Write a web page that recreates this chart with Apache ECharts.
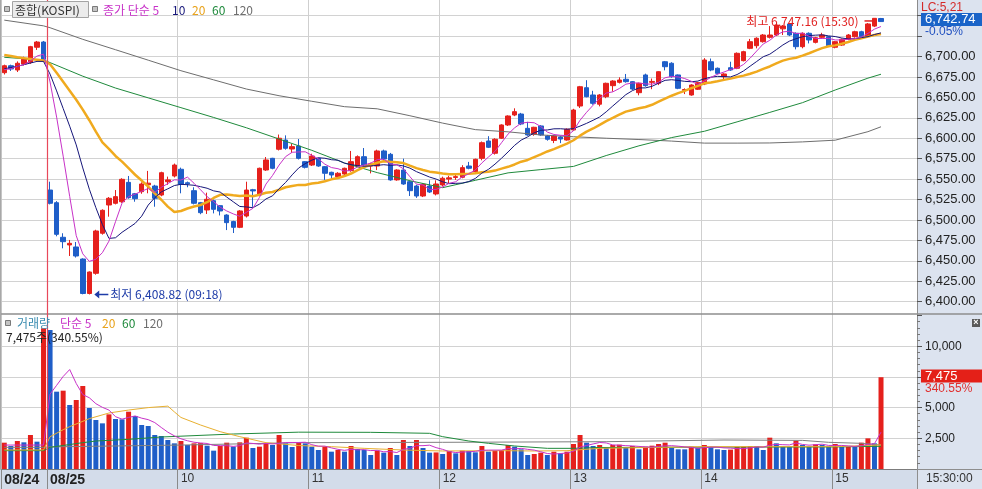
<!DOCTYPE html>
<html>
<head>
<meta charset="utf-8">
<title>종합(KOSPI) 3분</title>
<script src="https://cdn.jsdelivr.net/npm/echarts@6.0.0/dist/echarts.min.js"></script>
<style>
html, body { margin: 0; padding: 0; background: #fff; }
#main { width: 982px; height: 489px; }
</style>
</head>
<body>
<div id="main"></div>
<script>
// 08/24 last bars + 08/25 session, 3 minute candles
var day24Times = ['15:03', '15:06', '15:09', '15:12', '15:15', '15:18', '15:30'];

var openP = [6680.2, 6688.7, 6683.5, 6690.8, 6692.9, 6711.3, 6717.7,
  6536.6, 6521.1, 6478.8, 6469.4, 6466.9, 6452.2, 6410, 6434.7, 6483.7, 6518.3,
  6520.4, 6522.3, 6546, 6532, 6534.6, 6543, 6541.5, 6530.5, 6546.8, 6553.8,
  6562, 6545.5, 6535.8, 6521.1, 6512.2, 6523.6, 6517.5, 6506, 6498, 6491,
  6504.8, 6537, 6530.5, 6561.1, 6575.4, 6586.5, 6597.8, 6586.8, 6590.5, 6571.3,
  6567.2, 6575.4, 6565.2, 6558.3, 6552.9, 6556.2, 6560.3, 6566, 6577.4, 6566,
  6566, 6584.4, 6580.3, 6549, 6561.1, 6546.8, 6541.5, 6529.3, 6541.5, 6531.8,
  6542.8, 6550, 6552, 6552.2, 6566, 6559, 6575.4, 6596.6, 6581.6, 6600,
  6616.2, 6628.4, 6629.6, 6612.1, 6604.8, 6615, 6602.7, 6597.3, 6601.5, 6597.8,
  6610.1, 6639.4, 6661.8, 6652.9, 6641.6, 6650.8, 6664.3, 6668.4, 6672.1, 6669.2,
  6655.7, 6677.4, 6668.4, 6667.2, 6693.6, 6691.7, 6677.4, 6658.5, 6652.9, 6659.9,
  6666.4, 6693.6, 6685.6, 6675.3, 6686.3, 6685.6, 6694.9, 6710, 6713.2, 6718.1,
  6723.5, 6726.3, 6733.8, 6739.8, 6728.4, 6712, 6728.4, 6717.3, 6723.5, 6724.2,
  6711.3, 6714, 6721, 6724.2, 6730.3, 6725, 6737.2, 6746.5];

var closeP = [6688.7, 6684.7, 6691.7, 6696.6, 6712, 6717.7, 6696.6,
  6520.4, 6482.4, 6473.4, 6471.4, 6455.9, 6410, 6436.3, 6486.5, 6511.8, 6526.5,
  6528.5, 6549.7, 6527.2, 6526, 6544, 6545, 6526.5, 6557.8, 6549, 6567.2,
  6543.6, 6544.2, 6520.4, 6508.9, 6525.3, 6513, 6511, 6496.7, 6491, 6511,
  6536.6, 6535.5, 6563.2, 6573.4, 6563.2, 6600, 6587.7, 6589.7, 6575.4, 6564.4,
  6578.2, 6566, 6557.1, 6555, 6557.1, 6563.2, 6571.3, 6577.4, 6567.2, 6568.5,
  6584.4, 6574.6, 6549, 6561.1, 6544, 6535.8, 6529.3, 6543.6, 6534.2, 6544,
  6551, 6551.5, 6553, 6564, 6563.2, 6574.2, 6594.5, 6588.9, 6598.7, 6616.2,
  6627.2, 6632.5, 6617.4, 6604, 6613.4, 6604, 6598.7, 6602.7, 6599, 6611,
  6634.5, 6663, 6650.8, 6642.7, 6652.9, 6667.2, 6670, 6671.2, 6669.2, 6660.2,
  6667.2, 6664.3, 6669.5, 6681.4, 6687.5, 6675.3, 6661.1, 6659.6, 6665.1, 6668,
  6695.7, 6683.5, 6679.4, 6678.6, 6683.5, 6703.9, 6705.9, 6718.1, 6722.3, 6726.3,
  6726.3, 6738.5, 6737.2, 6726.3, 6712, 6728.4, 6720.2, 6723, 6726.3, 6713.2,
  6718.1, 6721, 6726.3, 6730.3, 6724.2, 6739.8, 6746.7, 6742.74];

var lowP = [6678, 6682.3, 6681, 6689, 6691, 6708, 6695,
  6519, 6480, 6465.3, 6455.9, 6454, 6409, 6408.82, 6433, 6482, 6504,
  6519, 6521, 6526, 6522.3, 6532, 6532.6, 6516.2, 6529, 6543, 6552,
  6532.6, 6540, 6519, 6507, 6507.3, 6508, 6505.5, 6487.6, 6484, 6490,
  6503, 6516, 6529, 6560, 6562, 6585, 6586, 6582, 6574, 6563,
  6566, 6565, 6549, 6549, 6552, 6555, 6559, 6565, 6566, 6557,
  6561, 6573, 6548, 6548, 6543, 6529.3, 6527, 6528, 6533, 6530,
  6541, 6545, 6549, 6551, 6562, 6558, 6573, 6588, 6580, 6599,
  6615, 6627, 6616, 6603, 6603, 6603, 6597, 6594, 6594, 6597,
  6609, 6637, 6650, 6641, 6639, 6649, 6657, 6667, 6668, 6659,
  6652.5, 6663, 6660, 6665, 6683, 6674, 6660, 6654, 6652, 6659,
  6665, 6682, 6678, 6670, 6682.5, 6684.5, 6694, 6709, 6710, 6717,
  6722, 6725, 6726.3, 6725, 6708.7, 6710, 6716, 6716, 6722.5, 6712,
  6710, 6713, 6720, 6723, 6723, 6724, 6736, 6742.5];

var highP = [6690, 6690, 6694, 6699.8, 6713, 6719, 6719,
  6546.8, 6523, 6483.7, 6475.5, 6473, 6453, 6437, 6488, 6513, 6528,
  6536.6, 6551, 6553.8, 6533, 6546, 6560, 6543, 6559, 6553, 6569,
  6564, 6547, 6540, 6522, 6533.4, 6525, 6518, 6507, 6499, 6512,
  6546.8, 6538, 6564, 6577, 6576, 6604.5, 6603.5, 6593, 6599, 6572,
  6581, 6576, 6566, 6559, 6558.5, 6564, 6584.4, 6579, 6588, 6570,
  6586, 6586, 6582, 6562, 6575, 6548, 6543, 6545, 6548.5, 6548.5,
  6553, 6554, 6556, 6567, 6571, 6575, 6596, 6602.5, 6600, 6617,
  6628, 6636.6, 6631, 6620, 6614, 6616, 6604, 6604, 6603, 6612,
  6636, 6664, 6671, 6658, 6654, 6668, 6671, 6674.5, 6678.6, 6670,
  6668, 6679, 6673, 6682, 6694.5, 6693, 6678, 6661, 6666, 6669,
  6698, 6697.5, 6686.5, 6679.5, 6693.6, 6705, 6707, 6721.5, 6723.5, 6727.5,
  6737.2, 6741, 6738.5, 6741, 6729.5, 6729.5, 6729.5, 6724, 6729, 6725,
  6719, 6722, 6727.5, 6731.5, 6731.5, 6741, 6746.9, 6747.16];

var volume = [2143, 1873, 2280, 2172, 2769, 2226, 11454,
  11319, 6297, 6378, 5212, 5619, 6759, 4967, 3990, 3718, 4451,
  4071, 4044, 4668, 4316, 3583, 3501, 2769, 2687, 2361, 2090,
  2280, 1954, 2090, 2110, 1900, 1493, 1873, 2145, 1818, 2172,
  2551, 1710, 1818, 2090, 1954, 2769, 2090, 1791, 2145, 2090,
  1818, 1547, 1818, 1411, 1547, 1411, 1873, 1629, 1547, 1140,
  1493, 1330, 1710, 1140, 2361, 1873, 2361, 1710, 1330, 1350,
  1221, 1466, 1276, 1493, 1466, 1357, 1873, 1411, 1493, 1547,
  1954, 1818, 1602, 1140, 1221, 1330, 1140, 1411, 1276, 1411,
  2036, 2769, 2145, 1873, 1954, 1791, 1954, 1980, 1710, 1873,
  1602, 1818, 1900, 2036, 2145, 1710, 1602, 1600, 1818, 1710,
  1954, 1764, 1602, 1547, 1580, 1791, 1820, 1873, 1860, 1547,
  2551, 2090, 1818, 1791, 2306, 1954, 1818, 2009, 1954, 1818,
  2036, 1818, 1830, 1791, 2145, 2496, 2090, 7475];

// price moving averages, one value per bar
var ma5 = [6684, 6685, 6688, 6690, 6694.7, 6700.5, 6702.9,
  6668.7, 6625.8, 6578.1, 6528.8, 6480.7, 6458.5, 6449.3, 6451.9, 6460, 6474.1,
  6497.9, 6520.6, 6528.7, 6531.6, 6535.1, 6538.4, 6533.7, 6539.9, 6544.5, 6549.1,
  6548.8, 6552.4, 6544.9, 6536.9, 6528.5, 6522.4, 6515.7, 6511, 6507.4, 6504.5,
  6509.3, 6514.2, 6527.5, 6543.9, 6554.4, 6567.1, 6577.5, 6582.8, 6583.2, 6583.4,
  6579.1, 6574.7, 6568.2, 6564.1, 6562.7, 6559.7, 6560.7, 6564.8, 6567.2, 6569.5,
  6573.8, 6574.4, 6568.7, 6567.5, 6562.6, 6552.9, 6543.8, 6542.8, 6537.4, 6537.4,
  6540.4, 6544.9, 6546.7, 6552.7, 6556.5, 6561.2, 6569.8, 6577, 6583.9, 6594.5,
  6605.1, 6612.7, 6618.4, 6619.5, 6618.9, 6614.3, 6607.5, 6604.6, 6603.6, 6603.1,
  6609.2, 6622, 6631.7, 6640.4, 6648.8, 6655.3, 6656.7, 6660.8, 6666.1, 6667.6,
  6667.6, 6666.4, 6666.1, 6668.5, 6674, 6675.6, 6675, 6673, 6669.7, 6665.8,
  6669.9, 6674.4, 6678.3, 6681, 6684.1, 6685.8, 6690.3, 6698, 6706.7, 6715.3,
  6719.8, 6726.3, 6730.1, 6730.9, 6728.1, 6728.5, 6724.8, 6722, 6722, 6722.2,
  6720.2, 6720.3, 6721, 6721.8, 6724, 6728.3, 6733.5, 6736.7];

var ma10 = [6685, 6686.5, 6688, 6690, 6692, 6694, 6694,
  6678.4, 6657.9, 6636.4, 6614.7, 6591.8, 6563.6, 6537.6, 6515, 6494.4, 6477.4,
  6478.2, 6484.9, 6490.3, 6495.8, 6504.6, 6518.2, 6527.2, 6534.3, 6538.1, 6542.1,
  6543.6, 6543.1, 6542.4, 6540.7, 6538.8, 6535.6, 6534.1, 6528, 6522.2, 6516.5,
  6515.9, 6515, 6519.3, 6525.7, 6529.5, 6538.2, 6545.9, 6555.2, 6563.6, 6568.9,
  6573.1, 6576.1, 6575.5, 6573.7, 6573.1, 6569.4, 6567.7, 6566.5, 6565.7, 6566.1,
  6566.8, 6567.6, 6566.8, 6567.4, 6566.1, 6563.4, 6559.1, 6555.8, 6552.5, 6550,
  6546.7, 6544.4, 6544.8, 6545.1, 6547, 6550.8, 6557.4, 6561.9, 6568.3, 6575.5,
  6583.2, 6591.3, 6597.7, 6601.7, 6606.7, 6609.7, 6610.1, 6611.5, 6611.6, 6611,
  6611.8, 6614.8, 6618.2, 6622, 6626, 6632.3, 6639.4, 6646.3, 6653.3, 6658.2,
  6661.5, 6661.6, 6663.5, 6667.3, 6670.8, 6671.6, 6670.7, 6669.6, 6669.1, 6669.9,
  6672.8, 6674.7, 6675.7, 6675.4, 6675, 6677.9, 6682.4, 6688.2, 6693.9, 6699.7,
  6702.8, 6708.3, 6714.1, 6718.8, 6721.7, 6724.2, 6725.6, 6726.1, 6726.5, 6725.2,
  6724.4, 6722.6, 6721.5, 6721.9, 6723.1, 6724.3, 6726.9, 6728.9];

var ma20 = [6701.8, 6700.5, 6699, 6698, 6697, 6696, 6695,
  6690.5, 6680, 6669, 6658, 6647, 6635, 6622, 6608, 6595, 6587,
  6578.3, 6571.4, 6563.4, 6555.3, 6548.2, 6540.9, 6532.4, 6524.7, 6516.3, 6509.8,
  6510.9, 6514, 6516.4, 6518.3, 6521.7, 6526.9, 6530.7, 6531.2, 6530.2, 6529.3,
  6529.8, 6529.1, 6530.9, 6533.2, 6534.2, 6536.9, 6540, 6541.6, 6542.9, 6542.7,
  6544.5, 6545.6, 6547.4, 6549.7, 6551.3, 6553.8, 6556.8, 6560.9, 6564.7, 6567.5,
  6570, 6571.9, 6571.2, 6570.6, 6569.6, 6566.4, 6563.4, 6561.2, 6559.1, 6558.1,
  6556.8, 6556, 6555.8, 6556.3, 6556.6, 6557.1, 6558.3, 6558.9, 6560.4, 6562.8,
  6565, 6567.9, 6571.3, 6573.4, 6576.9, 6580.3, 6583.8, 6586.7, 6590, 6593.3,
  6597.5, 6603.1, 6608, 6611.9, 6616.4, 6621, 6624.8, 6628.9, 6632.5, 6634.6,
  6636.7, 6638.2, 6640.9, 6644.7, 6648.4, 6652, 6655.1, 6658, 6661.2, 6664.1,
  6667.2, 6668.2, 6669.6, 6671.4, 6672.9, 6674.8, 6676.6, 6678.9, 6681.5, 6684.8,
  6687.8, 6691.5, 6694.9, 6697.1, 6698.4, 6701.1, 6704, 6707.2, 6710.2, 6712.5,
  6713.6, 6715.5, 6717.8, 6720.4, 6722.4, 6724.3, 6726.3, 6727.5];

// long averages read at sample bars: [bar index, value]
var ma60 = [[0, 6699], [6, 6695.7], [7, 6692.5], [12, 6675.9], [17, 6661.4], [22, 6649.4],
  [27, 6637.4], [32, 6625.4], [37, 6612.8], [42, 6599], [47, 6585.2], [52, 6569.7],
  [57, 6557.9], [62, 6548], [67, 6539.5], [72, 6548.5], [77, 6557.6], [82, 6561.6],
  [87, 6565.5], [92, 6578.8], [97, 6590.7], [102, 6600.8], [107, 6608.5], [112, 6620],
  [117, 6631.6], [122, 6643.5], [127, 6659], [132, 6673.5], [134, 6678.3]];

var ma120 = [[0, 6744.5], [6, 6737.5], [7, 6735.2], [12, 6721], [17, 6708.3], [22, 6695.5],
  [27, 6682.6], [32, 6671.4], [37, 6660.2], [42, 6652], [47, 6645.2], [52, 6638.6],
  [57, 6636], [62, 6627.5], [67, 6618.5], [72, 6610.5], [77, 6607.8], [82, 6604],
  [87, 6601.8], [92, 6600], [97, 6598.4], [102, 6596.5], [107, 6594], [112, 6594],
  [117, 6594.2], [122, 6595.5], [127, 6597.6], [132, 6608], [134, 6614]];

// volume moving averages
var volMa5 = [1950, 1950, 1950, 1950, 1950, 1950, 1950,
  6100, 6813, 7535, 8100, 6960, 6060, 5800, 5320, 5020, 4800,
  4260, 4060, 4200, 4320, 4140, 4020, 3780, 3380, 3000, 2700,
  2460, 2300, 2180, 2120, 2080, 1920, 1900, 1900, 1840, 1900,
  2120, 2080, 2020, 2080, 2040, 2080, 2160, 2160, 2160, 2180,
  1980, 1860, 1860, 1720, 1600, 1520, 1600, 1560, 1580, 1500,
  1520, 1400, 1420, 1340, 1600, 1680, 1900, 1900, 1940, 1740,
  1600, 1420, 1340, 1380, 1400, 1440, 1520, 1540, 1540, 1540,
  1660, 1640, 1680, 1600, 1540, 1400, 1260, 1220, 1260, 1300,
  1440, 1780, 1920, 2040, 2160, 2120, 1960, 1940, 1900, 1880,
  1840, 1800, 1780, 1840, 1880, 1900, 1860, 1800, 1760, 1680,
  1740, 1780, 1780, 1720, 1700, 1660, 1660, 1720, 1800, 1780,
  1940, 2000, 1980, 1960, 2120, 2000, 1940, 1980, 2020, 1920,
  1920, 1920, 1880, 1840, 1900, 2000, 2060, 3000];

var volMa20 = [[0, 1550], [6, 1550], [7, 2630], [9, 3200], [10, 3450], [13, 4100], [16, 4560],
  [19, 4800], [22, 5000], [25, 5120], [26, 4650], [27, 4200], [30, 3583], [33, 3040],
  [36, 2633], [40, 2145], [45, 1910], [50, 1818], [55, 1683], [61, 1547], [67, 1466],
  [76, 1493], [81, 1466], [86, 1493], [91, 1683], [106, 1818], [117, 1818], [127, 1818],
  [134, 1954]];

var volMa60 = [[0, 1493], [6, 1493], [7, 1764], [12, 2145], [14, 2280], [19, 2416], [24, 2606],
  [35, 2850], [45, 3000], [56, 2986], [65, 2905], [67, 2633], [71, 2280], [74, 2090],
  [78, 1873], [83, 1683], [87, 1683], [91, 1750], [107, 1780], [127, 1800], [134, 1850]];

var volMa120 = [[0, 1764], [6, 1764], [7, 1800], [27, 1950], [45, 2145], [67, 2172],
  [92, 2225], [110, 2361], [122, 2330], [126, 2172], [131, 2090], [134, 1954]];

// tick labels at the session / hour boundaries
var hourLabels = {
  '08/24 15:03': '08/24', '08/25 09:00': '08/25', '08/25 10:00': '10', '08/25 11:00': '11',
  '08/25 12:00': '12', '08/25 13:00': '13', '08/25 14:00': '14', '08/25 15:00': '15'
};
var sessionStart = '08/25 09:00';

var categories = day24Times.map(function (t) { return '08/24 ' + t; });
for (var m = 9 * 60; m <= 15 * 60 + 18; m += 3) {
  var hh = Math.floor(m / 60), mm = m % 60;
  categories.push('08/25 ' + (hh < 10 ? '0' : '') + hh + ':' + (mm < 10 ? '0' : '') + mm);
}
categories.push('08/25 15:30');
for (var e = 1; e <= 5; e++) categories.push('pad' + e);   // empty room on the right

var UP = '#e5201c', DOWN = '#1f5ec8';
var NUM = '"Liberation Sans", Arial, sans-serif';
var KR = '"Noto Sans CJK KR", sans-serif';

function comma(s) { return String(s).replace(/\B(?=(\d{3})+(?!\d))/g, ','); }
function isHour(idx, val) { return hourLabels[val] !== undefined; }

var candles = [];
for (var i = 0; i < closeP.length; i++) {
  candles.push([openP[i], closeP[i], lowP[i], highP[i]]);
}

function xAxisBase(gridIndex) {
  return {
    type: 'category', gridIndex: gridIndex, data: categories, boundaryGap: true,
    axisLine: { show: false }, axisTick: { show: false }, axisLabel: { show: false },
    splitLine: { show: true, interval: isHour, lineStyle: { color: '#cfcfcf', width: 1 } }
  };
}

var xPrice = xAxisBase(0);
var xVol = xAxisBase(1);
xVol.axisLine = { show: true, lineStyle: { color: '#7c7c7c', width: 1 } };
xVol.axisTick = { show: true, interval: isHour, length: 20, lineStyle: { color: '#8a8a8a' } };
xVol.axisLabel = {
  show: true, interval: isHour, align: 'left', margin: 4,
  formatter: function (v) {
    var l = hourLabels[v];
    if (!l) return '';
    return l.indexOf('/') > 0 ? '{b|' + l + '}' : '{n|' + l + '}';
  },
  rich: {
    b: { fontFamily: NUM, fontSize: 14, fontWeight: 'bold', color: '#222' },
    n: { fontFamily: NUM, fontSize: 12, color: '#333' }
  }
};

function lineSeries(name, data, color, width, xi, yi) {
  return {
    name: name, type: 'line', xAxisIndex: xi, yAxisIndex: yi, data: data,
    showSymbol: false, symbol: 'none', smooth: false, z: 3, silent: true,
    lineStyle: { color: color, width: width }
  };
}

var chart = echarts.init(document.getElementById('main'));

var graphics = [
  // right scale panel and bottom time strip
  { type: 'rect', z: -10, silent: true, shape: { x: 917, y: 0, width: 65, height: 489 }, style: { fill: '#dce3ef' } },
  { type: 'rect', z: -10, silent: true, shape: { x: 0, y: 469, width: 917, height: 20 }, style: { fill: '#d3dcea' } },
  { type: 'line', z: 50, silent: true, shape: { x1: 0, y1: 314, x2: 982, y2: 314 }, style: { stroke: '#8e8e8e', lineWidth: 1.5 } },
  { type: 'line', z: 50, silent: true, shape: { x1: 0.5, y1: 0, x2: 0.5, y2: 469 }, style: { stroke: '#a8a8a8', lineWidth: 1.5 } },
  { type: 'line', z: 50, silent: true, shape: { x1: 917.5, y1: 469, x2: 917.5, y2: 489 }, style: { stroke: '#8e8e8e' } },
  { type: 'line', z: 50, silent: true, shape: { x1: 917, y1: 469.5, x2: 982, y2: 469.5 }, style: { stroke: '#8e8e8e' } },
  { type: 'text', z: 50, silent: true, x: 926, y: 479, style: { text: '15:30:00', fill: '#333', font: '12px ' + NUM, verticalAlign: 'middle' } },

  // price panel header
  { type: 'rect', z: 60, silent: true, shape: { x: 4.5, y: 6.5, width: 5, height: 5 }, style: { fill: '#c4c4c4', stroke: '#7a7a7a' } },
  { type: 'rect', z: 60, silent: true, shape: { x: 12.5, y: 1.5, width: 76, height: 16 }, style: { fill: '#ececec', stroke: '#a4a4a4' } },
  { type: 'text', z: 61, silent: true, x: 15, y: 10, style: { text: '종합(KOSPI)', fill: '#333', font: '12px ' + KR, verticalAlign: 'middle' } },
  { type: 'rect', z: 60, silent: true, shape: { x: 92.5, y: 6.5, width: 5, height: 5 }, style: { fill: '#c4c4c4', stroke: '#7a7a7a' } },
  { type: 'text', z: 60, silent: true, x: 103, y: 10, style: { text: '종가 단순 5', fill: '#c832c8', font: '12px ' + KR, verticalAlign: 'middle' } },
  { type: 'text', z: 60, silent: true, x: 172, y: 10, style: { text: '10', fill: '#16167a', font: '12px ' + KR, verticalAlign: 'middle' } },
  { type: 'text', z: 60, silent: true, x: 192, y: 10, style: { text: '20', fill: '#e8a21a', font: '12px ' + KR, verticalAlign: 'middle' } },
  { type: 'text', z: 60, silent: true, x: 212, y: 10, style: { text: '60', fill: '#1f8a3c', font: '12px ' + KR, verticalAlign: 'middle' } },
  { type: 'text', z: 60, silent: true, x: 233, y: 10, style: { text: '120', fill: '#6e6e6e', font: '12px ' + KR, verticalAlign: 'middle' } },

  // volume panel header
  { type: 'rect', z: 60, silent: true, shape: { x: 5.5, y: 320.5, width: 5, height: 5 }, style: { fill: '#c4c4c4', stroke: '#7a7a7a' } },
  { type: 'text', z: 60, silent: true, x: 17, y: 323, style: { text: '거래량', fill: '#3a8cb0', font: '12px ' + KR, verticalAlign: 'middle' } },
  { type: 'text', z: 60, silent: true, x: 60, y: 323, style: { text: '단순 5', fill: '#c832c8', font: '12px ' + KR, verticalAlign: 'middle' } },
  { type: 'text', z: 60, silent: true, x: 102, y: 323, style: { text: '20', fill: '#e8a21a', font: '12px ' + KR, verticalAlign: 'middle' } },
  { type: 'text', z: 60, silent: true, x: 122, y: 323, style: { text: '60', fill: '#1f8a3c', font: '12px ' + KR, verticalAlign: 'middle' } },
  { type: 'text', z: 60, silent: true, x: 143, y: 323, style: { text: '120', fill: '#6e6e6e', font: '12px ' + KR, verticalAlign: 'middle' } },
  { type: 'text', z: 60, silent: true, x: 6, y: 337, style: { text: '7,475주(340.55%)', fill: '#222', font: '12px ' + KR, verticalAlign: 'middle' } },
  { type: 'rect', z: 60, silent: true, shape: { x: 972, y: 319, width: 8, height: 8 }, style: { fill: '#5a5a5a' } },
  { type: 'text', z: 61, silent: true, x: 976, y: 323, style: { text: '×', fill: '#fff', font: 'bold 9px ' + NUM, align: 'center', verticalAlign: 'middle' } },

  // current price / volume flags on the right scale
  { type: 'text', z: 100, silent: true, x: 921, y: 8, style: { text: 'LC:5,21', fill: '#d42a2a', font: '12px ' + NUM, verticalAlign: 'middle' } },
  { type: 'rect', z: 100, silent: true, shape: { x: 921, y: 13, width: 61, height: 13 }, style: { fill: '#1a64c8' } },
  { type: 'text', z: 101, silent: true, x: 925, y: 19.5, style: { text: '6,742.74', fill: '#fff', font: '13px ' + NUM, verticalAlign: 'middle' } },
  { type: 'text', z: 100, silent: true, x: 925, y: 32, style: { text: '-0.05%', fill: '#2050c0', font: '12px ' + NUM, verticalAlign: 'middle' } },
  { type: 'rect', z: 100, silent: true, shape: { x: 921, y: 369.5, width: 61, height: 13 }, style: { fill: '#e42018' } },
  { type: 'text', z: 101, silent: true, x: 925, y: 376, style: { text: '7,475', fill: '#fff', font: '13px ' + NUM, verticalAlign: 'middle' } },
  { type: 'text', z: 100, silent: true, x: 925, y: 389, style: { text: '340.55%', fill: '#e03030', font: '12px ' + NUM, verticalAlign: 'middle' } }
];

var option = {
  animation: false,
  backgroundColor: '#ffffff',
  textStyle: { fontFamily: NUM },
  grid: [
    { left: 1, right: 65, top: -4.8, height: 326.9, outerBoundsMode: 'none' },
    { left: 1, right: 65, top: 315.5, height: 153.5, outerBoundsMode: 'none' }
  ],
  xAxis: [xPrice, xVol],
  yAxis: [
    {
      type: 'value', gridIndex: 0, position: 'right', min: 6375, max: 6775, interval: 25, scale: true,
      axisLine: { show: true, lineStyle: { color: '#8c8c8c' } },
      axisTick: { show: true, length: 5, lineStyle: { color: '#555' } },
      axisLabel: {
        margin: 8, fontSize: 13, color: '#222', fontFamily: NUM,
        showMinLabel: false, showMaxLabel: false,
        formatter: function (v) { return v > 6700 ? '' : comma(v.toFixed(2)); }
      },
      splitLine: { show: true, showMinLine: false, showMaxLine: false, lineStyle: { color: '#d2d2d2' } }
    },
    {
      type: 'value', gridIndex: 1, position: 'right', min: 0, max: 12500, interval: 2500,
      axisLine: { show: true, lineStyle: { color: '#8c8c8c' } },
      axisTick: { show: true, length: 5, lineStyle: { color: '#555' } },
      minorTick: { show: true, splitNumber: 5, length: 3, lineStyle: { color: '#777' } },
      axisLabel: {
        margin: 8, fontSize: 12, color: '#222', fontFamily: NUM,
        showMinLabel: false, showMaxLabel: false,
        formatter: function (v) { return comma(v); }
      },
      splitLine: { show: true, showMinLine: false, showMaxLine: false, lineStyle: { color: '#d2d2d2' } }
    }
  ],
  series: [
    {
      name: '종합(KOSPI)', type: 'candlestick', xAxisIndex: 0, yAxisIndex: 0, data: candles,
      barWidth: 5, z: 2,
      itemStyle: { color: UP, color0: DOWN, borderColor: UP, borderColor0: DOWN, borderWidth: 1 },
      markPoint: {
        silent: true,
        data: [
          {
            coord: ['08/25 09:18', 6408.82],
            symbol: 'path://M0,5L7,0L7,4L20,4L20,6L7,6L7,10Z',
            symbolSize: [14, 8], symbolOffset: [12, 0],
            itemStyle: { color: '#1e3ca8' },
            label: {
              show: true, position: 'right', distance: 2, formatter: '최저 6,408.82 (09:18)',
              color: '#1e3ca8', fontSize: 12, fontFamily: KR
            }
          },
          {
            coord: ['08/25 15:30', 6747.16],
            symbol: 'rect', symbolSize: [9, 1.5], symbolOffset: [-12, 3],
            itemStyle: { color: '#e02020' },
            label: {
              show: true, position: 'left', distance: 6, formatter: '최고 6,747.16 (15:30)',
              color: '#e02020', fontSize: 12, fontFamily: KR
            }
          }
        ]
      }
    },
    lineSeries('MA120', ma120, '#6e6e6e', 1, 0, 0),
    lineSeries('MA60', ma60, '#1f8a3c', 1, 0, 0),
    lineSeries('MA20', ma20, '#f0aa1e', 2.5, 0, 0),
    lineSeries('MA10', ma10, '#16167a', 1, 0, 0),
    lineSeries('MA5', ma5, '#c832c8', 1, 0, 0),
    {
      name: '거래량', type: 'bar', xAxisIndex: 1, yAxisIndex: 1, data: volume, barWidth: 5, z: 2,
      itemStyle: {
        color: function (p) {
          return (p.dataIndex === 0 || volume[p.dataIndex] > volume[p.dataIndex - 1]) ? UP : DOWN;
        }
      }
    },
    lineSeries('VMA120', volMa120, '#808080', 1, 1, 1),
    lineSeries('VMA60', volMa60, '#1f8a3c', 1, 1, 1),
    lineSeries('VMA20', volMa20, '#e8b030', 1, 1, 1),
    lineSeries('VMA5', volMa5, '#c832c8', 1, 1, 1)
  ],
  graphic: graphics
};

chart.setOption(option);

// red day separator on the left edge of the first 08/25 bar, placed from the axis itself
var cx = chart.convertToPixel({ xAxisIndex: 0 }, sessionStart);
var nx = chart.convertToPixel({ xAxisIndex: 0 }, categories[categories.indexOf(sessionStart) + 1]);
var sepX = Math.round(cx - (nx - cx) / 2) + 0.5;
graphics.push({ type: 'line', z: 55, silent: true, shape: { x1: sepX, y1: 0, x2: sepX, y2: 469 }, style: { stroke: '#e8485a', lineWidth: 1.2 } });
option.graphic = graphics;
chart.setOption(option, true);
</script>
</body>
</html>
